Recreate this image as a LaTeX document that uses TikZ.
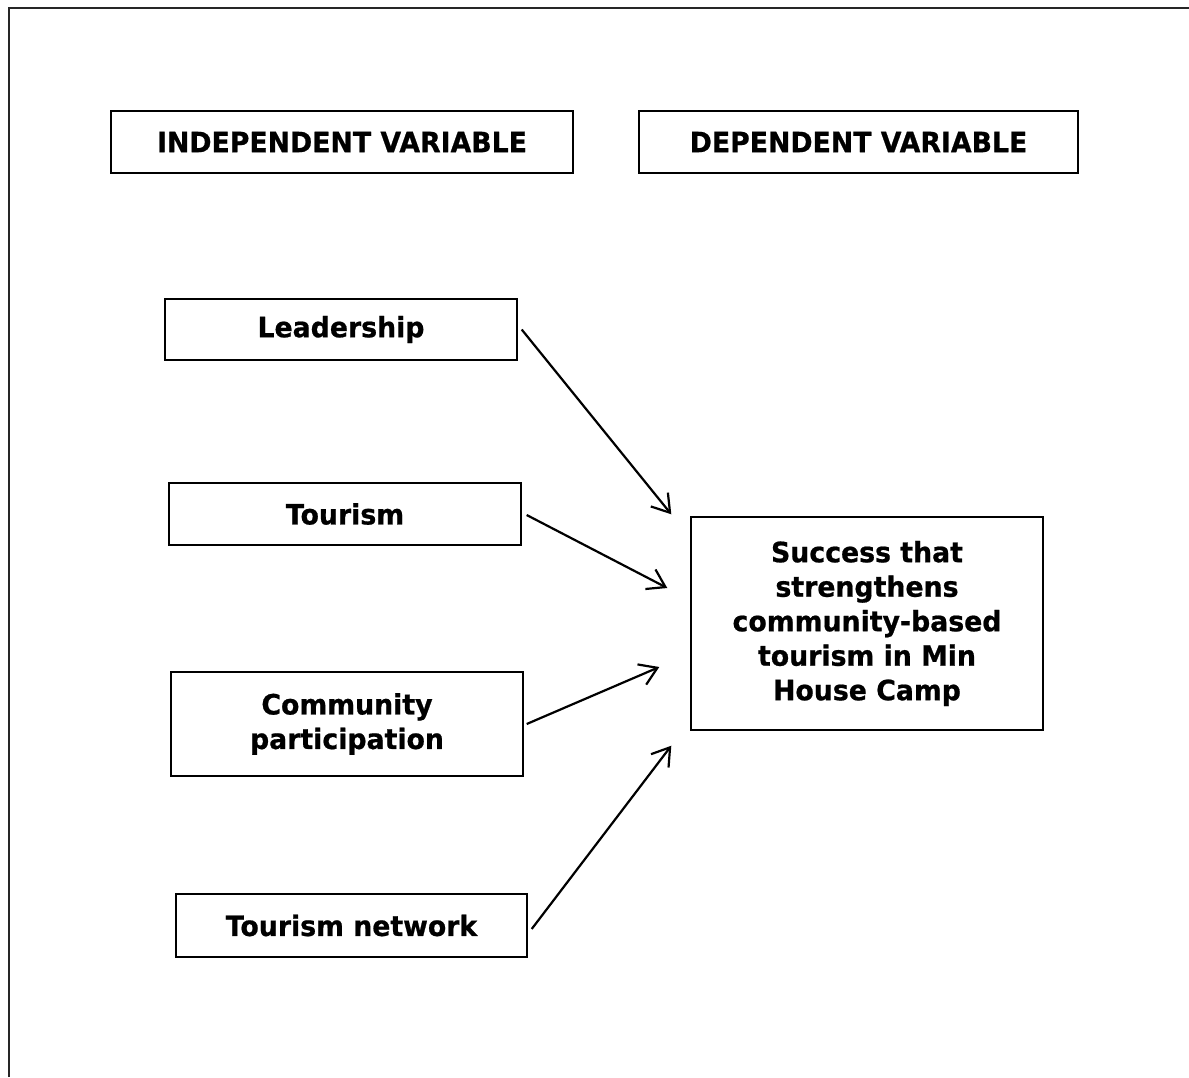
\documentclass[tikz,border=0pt]{standalone}
\usepackage{fontspec}
\setmainfont{DejaVu Sans}[FakeStretch=0.955, BoldFeatures={FakeBold=0.7}]
\usetikzlibrary{arrows.meta,calc}
\tikzset{
  box/.style={draw=black, line width=1.4pt, inner sep=0pt, align=center,
    font=\fontsize{28}{34.5}\selectfont\bfseries},
  conn/.style={line width=2.2pt, -{Straight Barb[length=17pt,width=22pt,line width=2.2pt]}},
  frame/.style={line width=2.8pt, draw=black!85}
}
\begin{document}
\begin{tikzpicture}[x=1pt,y=-1pt]
\useasboundingbox (0,0) rectangle (1189,1077);
\draw[frame] (9,1077) -- (9,8) -- (1189,8);
\node[box, minimum width=462pt, minimum height=62pt] (iv) at (342,142) {INDEPENDENT VARIABLE};
\node[box, minimum width=439pt, minimum height=62pt] (dv) at (858.5,142) {DEPENDENT VARIABLE};
\node[box, minimum width=352pt, minimum height=61pt] (lead) at (341,329.5) {Leadership};
\node[box, minimum width=352pt, minimum height=62pt] (tour) at (345,514) {Tourism};
\node[box, minimum width=352pt, minimum height=104pt] (comm) at (347,724) {Community\\participation};
\node[box, minimum width=351pt, minimum height=63pt] (net) at (351.5,925.5) {Tourism network};
\node[box, minimum width=352pt, minimum height=213pt] (succ) at (867,623.5) {Success that\\strengthens\\community-based\\tourism in Min\\House Camp};
\draw[conn] ($(lead.east)+(4,0)$) -- ($(succ.north west)+(-19,-2)$);
\draw[conn] ($(tour.east)+(5,1)$) -- ($(succ.west)+(-23,-35.5)$);
\draw[conn] ($(comm.east)+(3,0)$) -- ($(succ.west)+(-31,43.5)$);
\draw[conn] ($(net.east)+(4,3.5)$) -- ($(succ.south west)+(-19,15)$);
\end{tikzpicture}
\end{document}
